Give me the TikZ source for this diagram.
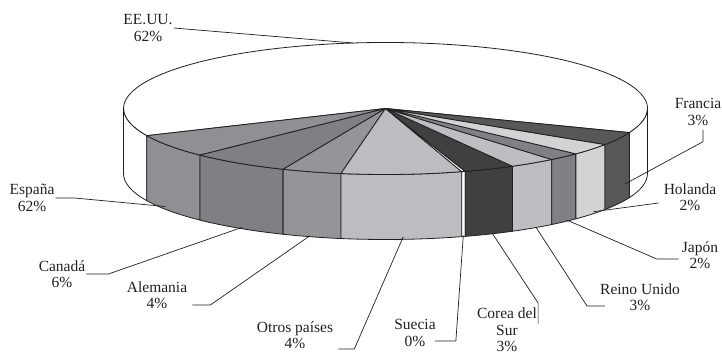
\documentclass[tikz,border=0pt]{standalone}
\usepackage{fontspec}
\setmainfont{Liberation Serif}
\usetikzlibrary{calc}
\definecolor{linea}{RGB}{35,31,32}
\definecolor{espana}{RGB}{143,144,147}
\definecolor{canada}{RGB}{127,128,131}
\definecolor{alemania}{RGB}{148,149,152}
\definecolor{otros}{RGB}{188,189,192}
\definecolor{suecia}{RGB}{255,255,255}
\definecolor{corea}{RGB}{64,64,65}
\definecolor{reino}{RGB}{189,190,193}
\definecolor{japon}{RGB}{128,129,132}
\definecolor{holanda}{RGB}{210,211,213}
\definecolor{francia}{RGB}{86,87,89}

\begin{document}
\begin{tikzpicture}[x=1pt, y=-1pt, x radius=262, y radius=66,
    every node/.style={font=\fontsize{15.5}{16.5}\selectfont, align=center, inner sep=1pt, text=linea},
    slice/.style={draw=linea, line width=0.8pt, line join=round},
    leader/.style={draw=linea, line width=0.7pt}]

    \useasboundingbox (0,0) rectangle (722,352);
    \coordinate (O) at (385.5,108.5);

    % EE.UU. (back)
    \draw[slice, fill=white] (O) -- ($(O)+(21.4:262 and 66)$) arc[start angle=21.4, end angle=-204.3] -- cycle;
    \draw[slice, fill=white] ($(O)+(0:262 and 66)$) arc[start angle=0, end angle=21.4] -- ++(0,65) arc[start angle=21.4, end angle=0] -- cycle;
    \draw[slice, fill=white] ($(O)+(155.7:262 and 66)$) arc[start angle=155.7, end angle=180] -- ++(0,65) arc[start angle=180, end angle=155.7] -- cycle;

    % front slices
    \foreach \a/\b/\c in {155.7/135.1/espana, 135.1/113.0/canada, 113.0/99.8/alemania, 99.8/73.1/otros,
        73.1/72.3/suecia, 72.3/61.0/corea, 61.0/50.6/reino, 50.6/43.4/japon, 43.4/33.1/holanda, 33.1/21.4/francia}{
        \draw[slice, fill=\c] ($(O)+(\a:262 and 66)$) arc[start angle=\a, end angle=\b] -- ++(0,65) arc[start angle=\b, end angle=\a] -- cycle;
        \draw[slice, fill=\c] (O) -- ($(O)+(\a:262 and 66)$) arc[start angle=\a, end angle=\b] -- cycle;
    }

    % leader ends
    \coordinate (pEEUU) at (353,43);
    \coordinate (pEspana) at (165,206.5);
    \coordinate (pCanada) at (241.7,227.5);
    \coordinate (pAlemania) at (310,235.7);
    \coordinate (pOtros) at (403.3,236.7);
    \coordinate (pSuecia) at (463.3,235.5);
    \coordinate (pCorea) at (492.7,234);
    \coordinate (pReino) at (536,227.3);
    \coordinate (pJapon) at (566.7,220);
    \coordinate (pHolanda) at (593.3,211.7);
    \coordinate (pFrancia) at (625,184);

    % labels
    \node (eeuu) at (148,28) {EE.UU.\\62\%};
    \node (espana) at (32,198) {España\\62\%};
    \node (canada) at (62,274) {Canadá\\6\%};
    \node (alemania) at (157,295) {Alemania\\4\%};
    \node (otros) at (295,335) {Otros países\\4\%};
    \node (suecia) at (415,333) {Suecia\\0\%};
    \node (corea) at (507,330) {Corea del\\Sur\\3\%};
    \node (reino) at (640,297) {Reino Unido\\3\%};
    \node (japon) at (700,255) {Japón\\2\%};
    \node (holanda) at (690,197) {Holanda\\2\%};
    \node (francia) at (698,112) {Francia\\3\%};

    \draw[leader] (eeuu.east) -- (pEEUU);
    \draw[leader] (espana.east) -- ++(19,0) -- (pEspana);
    \draw[leader] (canada.east) -- ++(22,0) -- (pCanada);
    \draw[leader] (alemania.east) ++(4,10) -- ++(18,0) -- (pAlemania);
    \draw[leader] (otros.east) ++(4,14) -- ++(16,0) -- (pOtros);
    \draw[leader] (suecia.east) ++(-2,8) -- ++(21,0) -- (pSuecia);
    \draw[leader] (corea.east) ++(0,-6) -- ++(0,-21) -- (pCorea);
    \draw[leader] (reino.west) ++(6,9) -- ++(-18,0) -- (pReino);
    \draw[leader] (japon.west) ++(-2,4) -- ++(-22,0) -- (pJapon);
    \draw[leader] (holanda.west) ++(-4,6) -- (pHolanda);
    \draw[leader] (francia.south) ++(5,3) -- ++(0,12) -- (pFrancia);

\end{tikzpicture}
\end{document}
